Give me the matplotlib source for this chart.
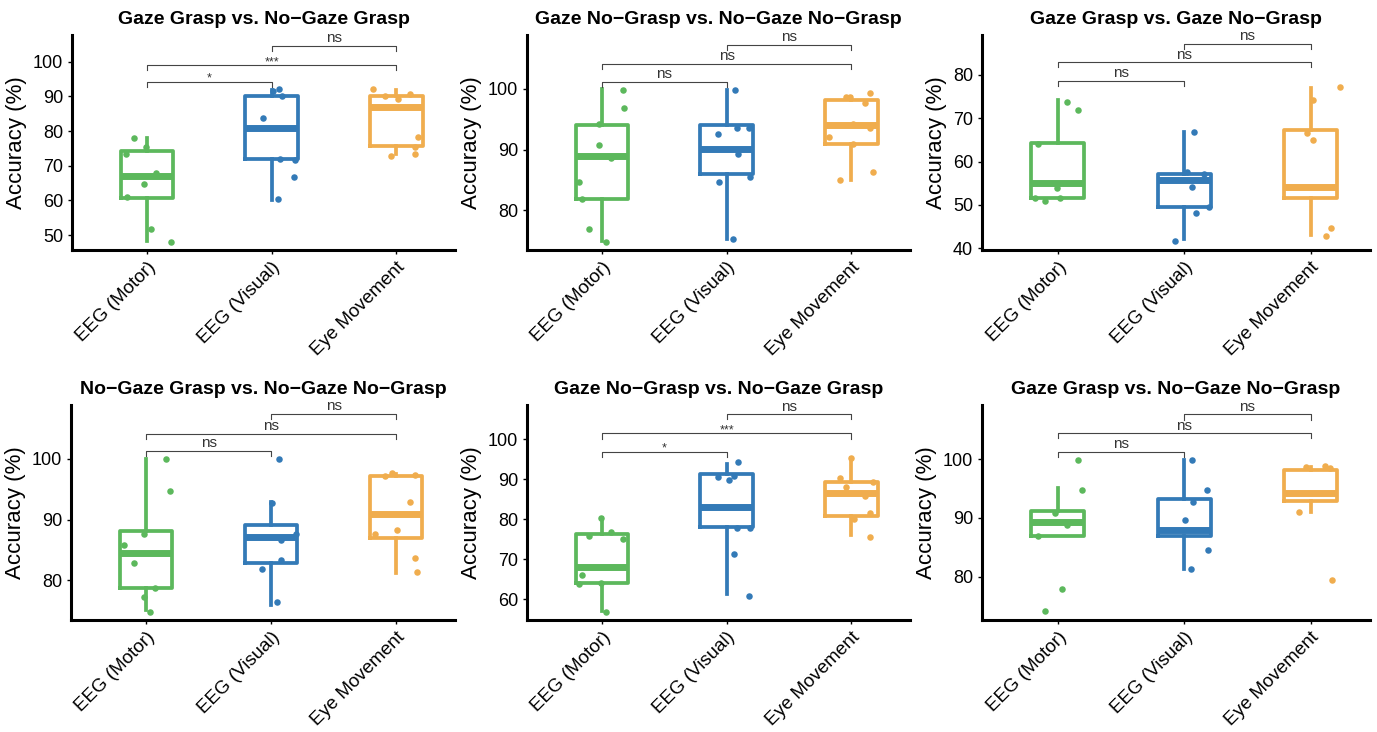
import matplotlib.pyplot as plt

plt.rcParams['font.family'] = ['Liberation Sans', 'DejaVu Sans']

groups = ["EEG (Motor)", "EEG (Visual)", "Eye Movement"]
colors = ["#5cb85c", "#337ab7", "#f0ad4e"]

titles = [
    "Gaze Grasp vs. No\u2212Gaze Grasp",
    "Gaze No\u2212Grasp vs. No\u2212Gaze No\u2212Grasp",
    "Gaze Grasp vs. Gaze No\u2212Grasp",
    "No\u2212Gaze Grasp vs. No\u2212Gaze No\u2212Grasp",
    "Gaze No\u2212Grasp vs. No\u2212Gaze Grasp",
    "Gaze Grasp vs. No\u2212Gaze No\u2212Grasp",
]

# box stats per panel: [whislo, q1, med, q3, whishi] for each group
box_stats = [
    [[48.4, 60.8, 67.1, 74.3, 77.9], [60.1, 71.9, 81.0, 90.2, 91.8], [73.4, 75.8, 87.0, 90.2, 91.8]],
    [[75.0, 81.9, 89.0, 94.1, 100.0], [75.3, 86.0, 90.1, 94.0, 99.8], [85.0, 90.9, 94.0, 98.2, 98.7]],
    [[51.7, 51.7, 55.0, 64.2, 74.1], [42.1, 49.6, 55.8, 57.2, 66.8], [43.1, 51.7, 54.2, 67.3, 76.9]],
    [[75.1, 78.8, 84.5, 88.1, 100.0], [76.0, 82.9, 87.1, 89.1, 92.9], [81.2, 86.9, 91.0, 97.2, 97.6]],
    [[57.1, 63.9, 68.1, 76.25, 80.3], [61.25, 78.1, 83.1, 91.2, 93.75], [76.0, 80.8, 86.5, 89.2, 95.2]],
    [[86.9, 86.9, 89.3, 91.2, 95.0], [81.2, 86.9, 88.0, 93.2, 99.9], [91.0, 92.9, 94.2, 98.2, 98.7]],
]

# jittered individual points: (offset from group centre, accuracy)
points = [
    [
        [(-0.10, 77.9), (-0.01, 75.3), (0.07, 68.0), (-0.02, 64.8), (-0.16, 61.1), (0.03, 51.7), (0.19, 47.9), (-0.17, 73.4)],
        [(0.01, 91.6), (0.06, 92.0), (0.08, 90.2), (-0.07, 83.8), (0.07, 71.8), (0.19, 71.6), (0.18, 66.8), (0.05, 60.3)],
        [(-0.19, 92.1), (-0.09, 90.1), (0.01, 89.2), (0.11, 90.8), (0.17, 78.4), (0.15, 75.5), (-0.04, 72.8), (0.15, 73.4)],
    ],
    [
        [(0.17, 99.9), (0.18, 96.8), (-0.02, 94.3), (-0.02, 90.8), (0.07, 88.6), (-0.18, 84.7), (-0.16, 81.9), (-0.10, 76.9), (0.03, 74.7)],
        [(0.07, 99.9), (-0.07, 92.6), (0.08, 93.6), (0.18, 93.5), (0.09, 89.2), (-0.06, 84.7), (0.19, 85.5), (0.05, 75.3)],
        [(-0.04, 98.7), (0.15, 99.3), (-0.01, 98.6), (0.11, 97.7), (0.01, 94.2), (-0.18, 92.1), (0.15, 93.5), (0.01, 90.9), (0.17, 86.3), (-0.09, 85.0)],
    ],
    [
        [(0.07, 73.8), (0.16, 71.9), (-0.16, 64.0), (-0.01, 54.0), (-0.18, 51.5), (-0.10, 50.9), (0.02, 51.5)],
        [(0.08, 66.8), (0.02, 57.7), (0.16, 57.1), (0.06, 54.1), (0.09, 48.2), (0.20, 49.6), (-0.07, 41.7)],
        [(0.23, 77.3), (0.02, 74.2), (-0.03, 66.5), (0.02, 65.0), (0.16, 44.6), (0.12, 42.8)],
    ],
    [
        [(0.16, 100.0), (0.19, 94.8), (-0.02, 87.7), (-0.18, 85.8), (-0.10, 82.9), (0.07, 78.7), (-0.02, 77.2), (0.03, 74.7)],
        [(0.06, 100.0), (0.01, 92.7), (0.20, 87.7), (0.08, 86.6), (0.08, 83.4), (-0.07, 81.8), (0.05, 76.4)],
        [(-0.09, 97.2), (-0.03, 97.7), (0.15, 97.4), (0.11, 92.9), (0.01, 88.3), (-0.17, 87.6), (0.15, 83.6), (0.17, 81.4)],
    ],
    [
        [(-0.01, 80.3), (-0.10, 75.8), (0.07, 76.7), (0.17, 74.9), (-0.16, 66.0), (-0.18, 63.7), (-0.01, 63.9), (0.03, 56.7)],
        [(0.09, 94.2), (-0.07, 90.6), (0.06, 90.75), (0.02, 89.75), (0.08, 77.8), (0.19, 77.7), (0.06, 71.25), (0.18, 60.75)],
        [(0.00, 95.2), (-0.09, 90.2), (-0.04, 88.1), (0.17, 89.3), (0.11, 85.75), (0.15, 81.4), (0.02, 80.0), (0.15, 75.6)],
    ],
    [
        [(0.16, 99.9), (0.19, 94.7), (-0.02, 90.8), (0.07, 88.8), (-0.16, 86.9), (0.03, 77.8), (-0.10, 74.1)],
        [(0.06, 99.9), (0.18, 94.7), (0.07, 92.7), (0.01, 89.7), (0.19, 84.6), (0.05, 81.3)],
        [(-0.04, 98.7), (0.11, 98.8), (0.15, 98.4), (-0.09, 91.0), (0.17, 79.4)],
    ],
]

y_limits = [(45.7, 107.7), (73.45, 108.9), (39.6, 89.2), (73.45, 108.9), (54.75, 108.5), (72.6, 109.2)]
y_ticks = [
    [50, 60, 70, 80, 90, 100],
    [80, 90, 100],
    [40, 50, 60, 70, 80],
    [80, 90, 100],
    [60, 70, 80, 90, 100],
    [80, 90, 100],
]

bracket_pairs = [(1, 2), (1, 3), (2, 3)]
bracket_levels = [
    [94.2, 99.0, 104.6],
    [101.2, 104.1, 107.3],
    [78.6, 82.9, 87.2],
    [101.3, 104.2, 107.4],
    [96.8, 101.4, 106.2],
    [101.2, 104.4, 107.6],
]
bracket_labels = [
    ["*", "***", "ns"],
    ["ns", "ns", "ns"],
    ["ns", "ns", "ns"],
    ["ns", "ns", "ns"],
    ["*", "***", "ns"],
    ["ns", "ns", "ns"],
]

W, H = 1377, 732
# axes boxes in pixels: left, right, top, bottom
panel_px = [
    (72, 455, 35, 250), (527, 910, 35, 250), (982, 1370, 35, 250),
    (71, 455, 405, 620), (527, 910, 405, 620), (982, 1370, 405, 620),
]


def draw_panel(ax, i):
    for g in range(3):
        lo, q1, med, q3, hi = box_stats[i][g]
        st = dict(whislo=lo, q1=q1, med=med, q3=q3, whishi=hi, fliers=[])
        ax.bxp([st], positions=[g + 1], widths=0.42, showfliers=False, showcaps=False,
               boxprops=dict(color=colors[g], linewidth=2.7),
               whiskerprops=dict(color=colors[g], linewidth=2.7),
               medianprops=dict(color=colors[g], linewidth=5, solid_capstyle='butt'))
        xs = [g + 1 + p[0] for p in points[i][g]]
        ys = [p[1] for p in points[i][g]]
        ax.scatter(xs, ys, s=22, color=colors[g], zorder=3, linewidths=0)

    y0, y1 = y_limits[i]
    tip = 0.024 * (y1 - y0)
    for (a, b), lev, lab in zip(bracket_pairs, bracket_levels[i], bracket_labels[i]):
        ax.plot([a, a, b, b], [lev - tip, lev, lev, lev - tip], color='#444444', linewidth=0.8,
                clip_on=False)
        fs = 11 if lab == "ns" else 9
        ax.annotate(lab, xy=((a + b) / 2, lev), xytext=(0, 0.5 if lab == "ns" else -2),
                    textcoords='offset points', ha='center', va='bottom', fontsize=fs,
                    color='#333333', annotation_clip=False)

    ax.set_xlim(0.4, 3.47)
    ax.set_ylim(y0, y1)
    ax.set_yticks(y_ticks[i])
    ax.set_xticks([1, 2, 3])
    ax.set_xticklabels(groups, rotation=45, ha='right', rotation_mode='anchor', fontsize=13.5)
    ax.tick_params(axis='y', labelsize=13, length=3, width=1)
    ax.tick_params(axis='x', length=3, width=1)
    for s in ['top', 'right']:
        ax.spines[s].set_visible(False)
    for s in ['left', 'bottom']:
        ax.spines[s].set_linewidth(2.2)
    ax.set_ylabel("Accuracy (%)", fontsize=16)
    ax.set_title(titles[i], fontsize=14, fontweight='bold', pad=8)
    ax.patch.set_alpha(0)


fig = plt.figure(figsize=(W / 100, H / 100), dpi=100)
for i, (l, r, t, b) in enumerate(panel_px):
    ax = fig.add_axes([l / W, 1 - b / H, (r - l) / W, (b - t) / H])
    draw_panel(ax, i)

fig.savefig("out.png", dpi=100)
